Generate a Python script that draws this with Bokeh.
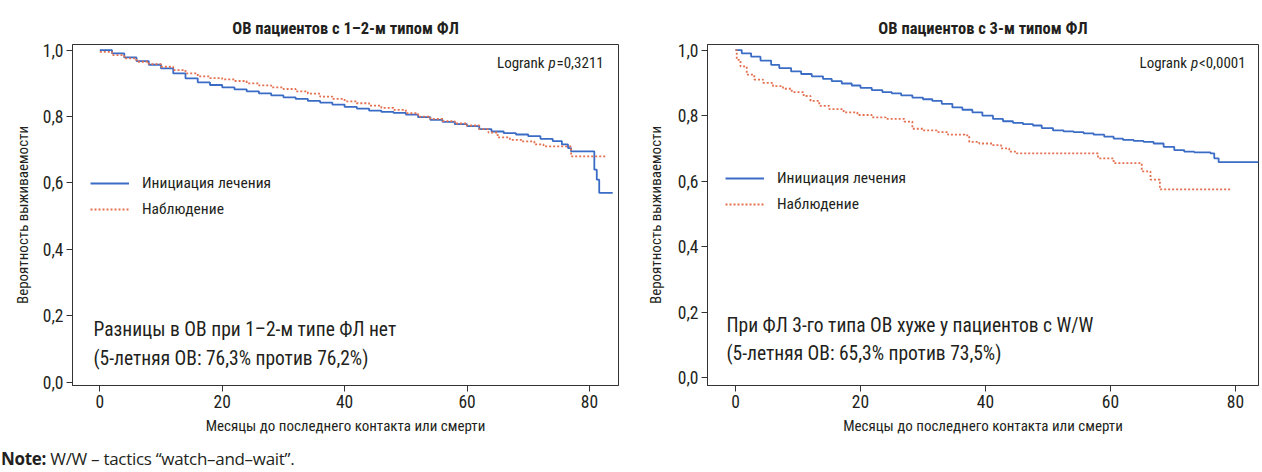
from bokeh.plotting import figure
from bokeh.models import Range1d, FixedTicker, Label, Legend, LegendItem, Div
from bokeh.layouts import row, column
from bokeh.embed import file_html
from bokeh.resources import INLINE

# ---------------- data ----------------
titles = ["ОВ пациентов с 1–2-м типом ФЛ", "ОВ пациентов с 3-м типом ФЛ"]
series_names = ["Инициация лечения", "Наблюдение"]
x_ticks = [0, 20, 40, 60, 80]
y_ticks = [0.0, 0.2, 0.4, 0.6, 0.8, 1.0]
y_tick_labels = ["0,0", "0,2", "0,4", "0,6", "0,8", "1,0"]
x_title = "Месяцы до последнего контакта или смерти"
y_title = "Вероятность выживаемости"

# Left panel (FL grade 1-2)
l_treat_t = [0, 2, 4, 6, 8, 10, 12, 14, 16, 18, 20, 22, 24, 26, 28, 30, 32, 34, 36, 38,
             40, 42, 44, 46, 48, 50, 52, 54, 56, 58, 60, 62, 64, 66, 68, 70, 72, 74,
             75.5, 76.5, 77, 80.8, 81.2, 81.6, 83.8]
l_treat_s = [1.0, 0.99, 0.978, 0.967, 0.956, 0.945, 0.93, 0.915, 0.903, 0.895, 0.888,
             0.882, 0.876, 0.87, 0.864, 0.858, 0.853, 0.847, 0.842, 0.836, 0.829, 0.824,
             0.818, 0.814, 0.811, 0.806, 0.798, 0.79, 0.784, 0.777, 0.771, 0.762, 0.755,
             0.75, 0.746, 0.741, 0.733, 0.726, 0.716, 0.705, 0.695, 0.64, 0.61, 0.57, 0.57]
l_obs_t = [0, 2, 4, 6, 8, 10, 12, 14, 16, 18, 20, 22, 24, 26, 28, 30, 32, 34, 36, 38,
           40, 42, 44, 46, 48, 50, 52, 54, 56, 58, 60, 62, 63.5, 65, 67, 69, 71, 72.5,
           77, 82.8]
l_obs_s = [0.995, 0.985, 0.975, 0.965, 0.958, 0.95, 0.94, 0.93, 0.921, 0.916, 0.912,
           0.907, 0.9, 0.894, 0.888, 0.883, 0.876, 0.869, 0.86, 0.853, 0.846, 0.84,
           0.833, 0.826, 0.82, 0.81, 0.8, 0.793, 0.786, 0.779, 0.773, 0.762, 0.752,
           0.737, 0.73, 0.725, 0.716, 0.71, 0.68, 0.68]

# Right panel (FL grade 3)
r_treat_t = [0, 1, 2.5, 4, 5.7, 7, 8.9, 10.5, 12.2, 14, 15.4, 17, 18.6, 20, 21.8, 23.5,
             25, 26.5, 28.3, 30, 31.5, 33, 34.7, 36.3, 37.9, 39.5, 41.2, 42.8, 44.4, 46,
             47.6, 49, 50.8, 52.5, 54.1, 55.7, 57.3, 59, 60.5, 62, 63.7, 65.3, 66.9, 68.5,
             70.2, 71.8, 73.4, 76, 76.6, 77.3, 83.7]
r_treat_s = [1.0, 0.99, 0.98, 0.968, 0.955, 0.945, 0.935, 0.927, 0.92, 0.912, 0.905,
             0.898, 0.892, 0.885, 0.878, 0.872, 0.868, 0.862, 0.855, 0.85, 0.845, 0.836,
             0.825, 0.818, 0.81, 0.8, 0.79, 0.783, 0.778, 0.774, 0.77, 0.762, 0.755,
             0.752, 0.75, 0.746, 0.742, 0.736, 0.73, 0.726, 0.723, 0.72, 0.715, 0.705,
             0.695, 0.69, 0.688, 0.685, 0.67, 0.658, 0.658]
r_obs_t = [0, 0.2, 0.8, 1.8, 3, 4.4, 6, 7.6, 9, 10.9, 12, 13.4, 15, 17.3, 19.5, 21.8, 24,
           27, 28.3, 30, 32.2, 34, 36.7, 37.4, 39, 41.2, 42.5, 43.8, 45, 58, 60.5, 65,
           66.4, 67.9, 79.2]
r_obs_s = [1.0, 0.97, 0.95, 0.925, 0.91, 0.9, 0.89, 0.882, 0.872, 0.86, 0.845, 0.83,
           0.82, 0.81, 0.802, 0.795, 0.79, 0.782, 0.76, 0.755, 0.75, 0.742, 0.74, 0.72,
           0.715, 0.71, 0.7, 0.69, 0.685, 0.67, 0.655, 0.63, 0.605, 0.575, 0.575]

notes = [["Разницы в ОВ при 1–2-м типе ФЛ нет", "(5-летняя ОВ: 76,3% против 76,2%)"],
         ["При ФЛ 3-го типа ОВ хуже у пациентов с W/W", "(5-летняя ОВ: 65,3% против 73,5%)"]]
logrank = [("Logrank", "p", "=0,3211"), ("Logrank", "p", "<0,0001")]
footnote_bold = "Note:"
footnote_text = "W/W – tactics “watch–and–wait”."

# ---------------- style ----------------
NARROW = "Roboto Condensed, DejaVu Sans Condensed, Liberation Sans Narrow, Roboto, sans-serif"
TXT = "#231f20"
BLUE = "#3a6cc6"
RED = "#e4704f"


def make_panel(idx, x_range, y_range, borders, tt, ts, ot, os_, ax_std):
    bl, br, bt, bb = borders
    p = figure(width=631, height=445, output_backend="svg", toolbar_location=None,
               x_range=Range1d(*x_range), y_range=Range1d(*y_range),
               min_border_left=bl, min_border_right=br, min_border_top=bt,
               min_border_bottom=bb, title=titles[idx])
    p.title.align = "center"
    p.title.text_font = NARROW
    p.title.text_font_style = "bold"
    p.title.text_font_size = "16.5px"
    p.title.text_color = TXT
    p.title.standoff = 13
    p.outline_line_color = "#333333"
    p.outline_line_width = 1
    p.grid.visible = False
    p.background_fill_color = "white"
    p.border_fill_color = "white"

    for ax in (p.xaxis[0], p.yaxis[0]):
        ax.axis_line_color = "#333333"
        ax.major_tick_line_color = "#333333"
        ax.minor_tick_line_color = None
        ax.major_tick_in = 0
        ax.major_tick_out = 6
        ax.major_label_text_font = NARROW
        ax.major_label_text_font_size = "17.5px"
        ax.major_label_text_color = TXT
        ax.axis_label_text_font = NARROW
        ax.axis_label_text_font_size = "15px"
        ax.axis_label_text_font_style = "normal"
        ax.axis_label_text_color = TXT

    p.xaxis.ticker = FixedTicker(ticks=x_ticks)
    p.yaxis.ticker = FixedTicker(ticks=y_ticks)
    p.yaxis.major_label_overrides = {v: s for v, s in zip(y_ticks, y_tick_labels)}
    p.xaxis.axis_label = x_title
    p.yaxis.axis_label = y_title
    p.xaxis.major_label_standoff = ax_std[0]
    p.xaxis.axis_label_standoff = ax_std[1]
    p.yaxis.major_label_standoff = 3
    p.yaxis.axis_label_standoff = ax_std[2]

    r1 = p.step(tt, ts, mode="after", line_color=BLUE, line_width=1.8)
    r2 = p.step(ot, os_, mode="after", line_color=RED, line_width=1.8, line_dash="2 2")

    leg = Legend(items=[LegendItem(label=series_names[0], renderers=[r1]),
                        LegendItem(label=series_names[1], renderers=[r2])],
                 location=(18, 166 if idx == 0 else 171),
                 glyph_width=39, glyph_height=20, label_height=20,
                 label_standoff=13, spacing=6, padding=0, margin=0,
                 border_line_alpha=0, background_fill_alpha=0,
                 label_text_font=NARROW, label_text_font_size="15.5px",
                 label_text_color=TXT)
    p.add_layout(leg)
    return p


# left: 1,0 at y=50px, 0,0 at y=381.7px; frame 44..385 ; x: 0 at 99.3px, 6.12 px/month
pL = make_panel(0, (-4.46, 84.75), (-0.010, 1.017), (72, 13, 44, 60),
                l_treat_t, l_treat_s, l_obs_t, l_obs_s, (3, 6, 8))
# right: frame 44..390 ; x: 0 at 735px, 6.25 px/month
pR = make_panel(1, (-4.48, 83.68), (-0.023, 1.017), (76, 4, 44, 55),
                r_treat_t, r_treat_s, r_obs_t, r_obs_s, (3, 6, 10))


def lab(p, x, y, text, size, style="normal", font=NARROW, align="left"):
    p.add_layout(Label(x=x, y=y, text=text, text_font=font, text_font_size=size,
                       text_font_style=style, text_color=TXT, text_align=align,
                       text_baseline="middle"))


def px_to_data_L(px, py):
    return (px - 99.3) / 6.12, (381.7 - py) / 331.7


def px_to_data_R(px, py):
    return (px - 735.0) / 6.25, (382.3 - py) / 332.3


# Logrank texts
for i, (p, conv, x0) in enumerate(((pL, px_to_data_L, 496.5), (pR, px_to_data_R, 1139.0))):
    a, b, c = logrank[i]
    x, y = conv(x0, 63)
    lab(p, x, y, a, "15px")
    x, y = conv(x0 + 51.5, 63)
    lab(p, x, y, b, "15px", style="italic")
    x, y = conv(x0 + 59.5, 63)
    lab(p, x, y, c, "15px")

# Inside notes
for p, conv, x0, i in ((pL, px_to_data_L, 93, 0), (pR, px_to_data_R, 726, 1)):
    x, y = conv(x0, 329)
    lab(p, x, y, notes[i][0], "19.5px")
    x, y = conv(x0, 358)
    lab(p, x, y, notes[i][1], "19.5px")

# Footnote
foot = Div(text=f"<b>{footnote_bold}</b> {footnote_text}", width=1262, height=27,
           styles={"font-family": "'Open Sans', sans-serif", "font-size": "17px",
                   "color": TXT, "line-height": "27px", "margin": "0",
                   "padding": "0 0 0 1px", "white-space": "nowrap",
                   "letter-spacing": "-0.3px"})

layout = column(row(pL, pR, spacing=0), foot, spacing=0)
open("out.html", "w").write(file_html(layout, INLINE))
